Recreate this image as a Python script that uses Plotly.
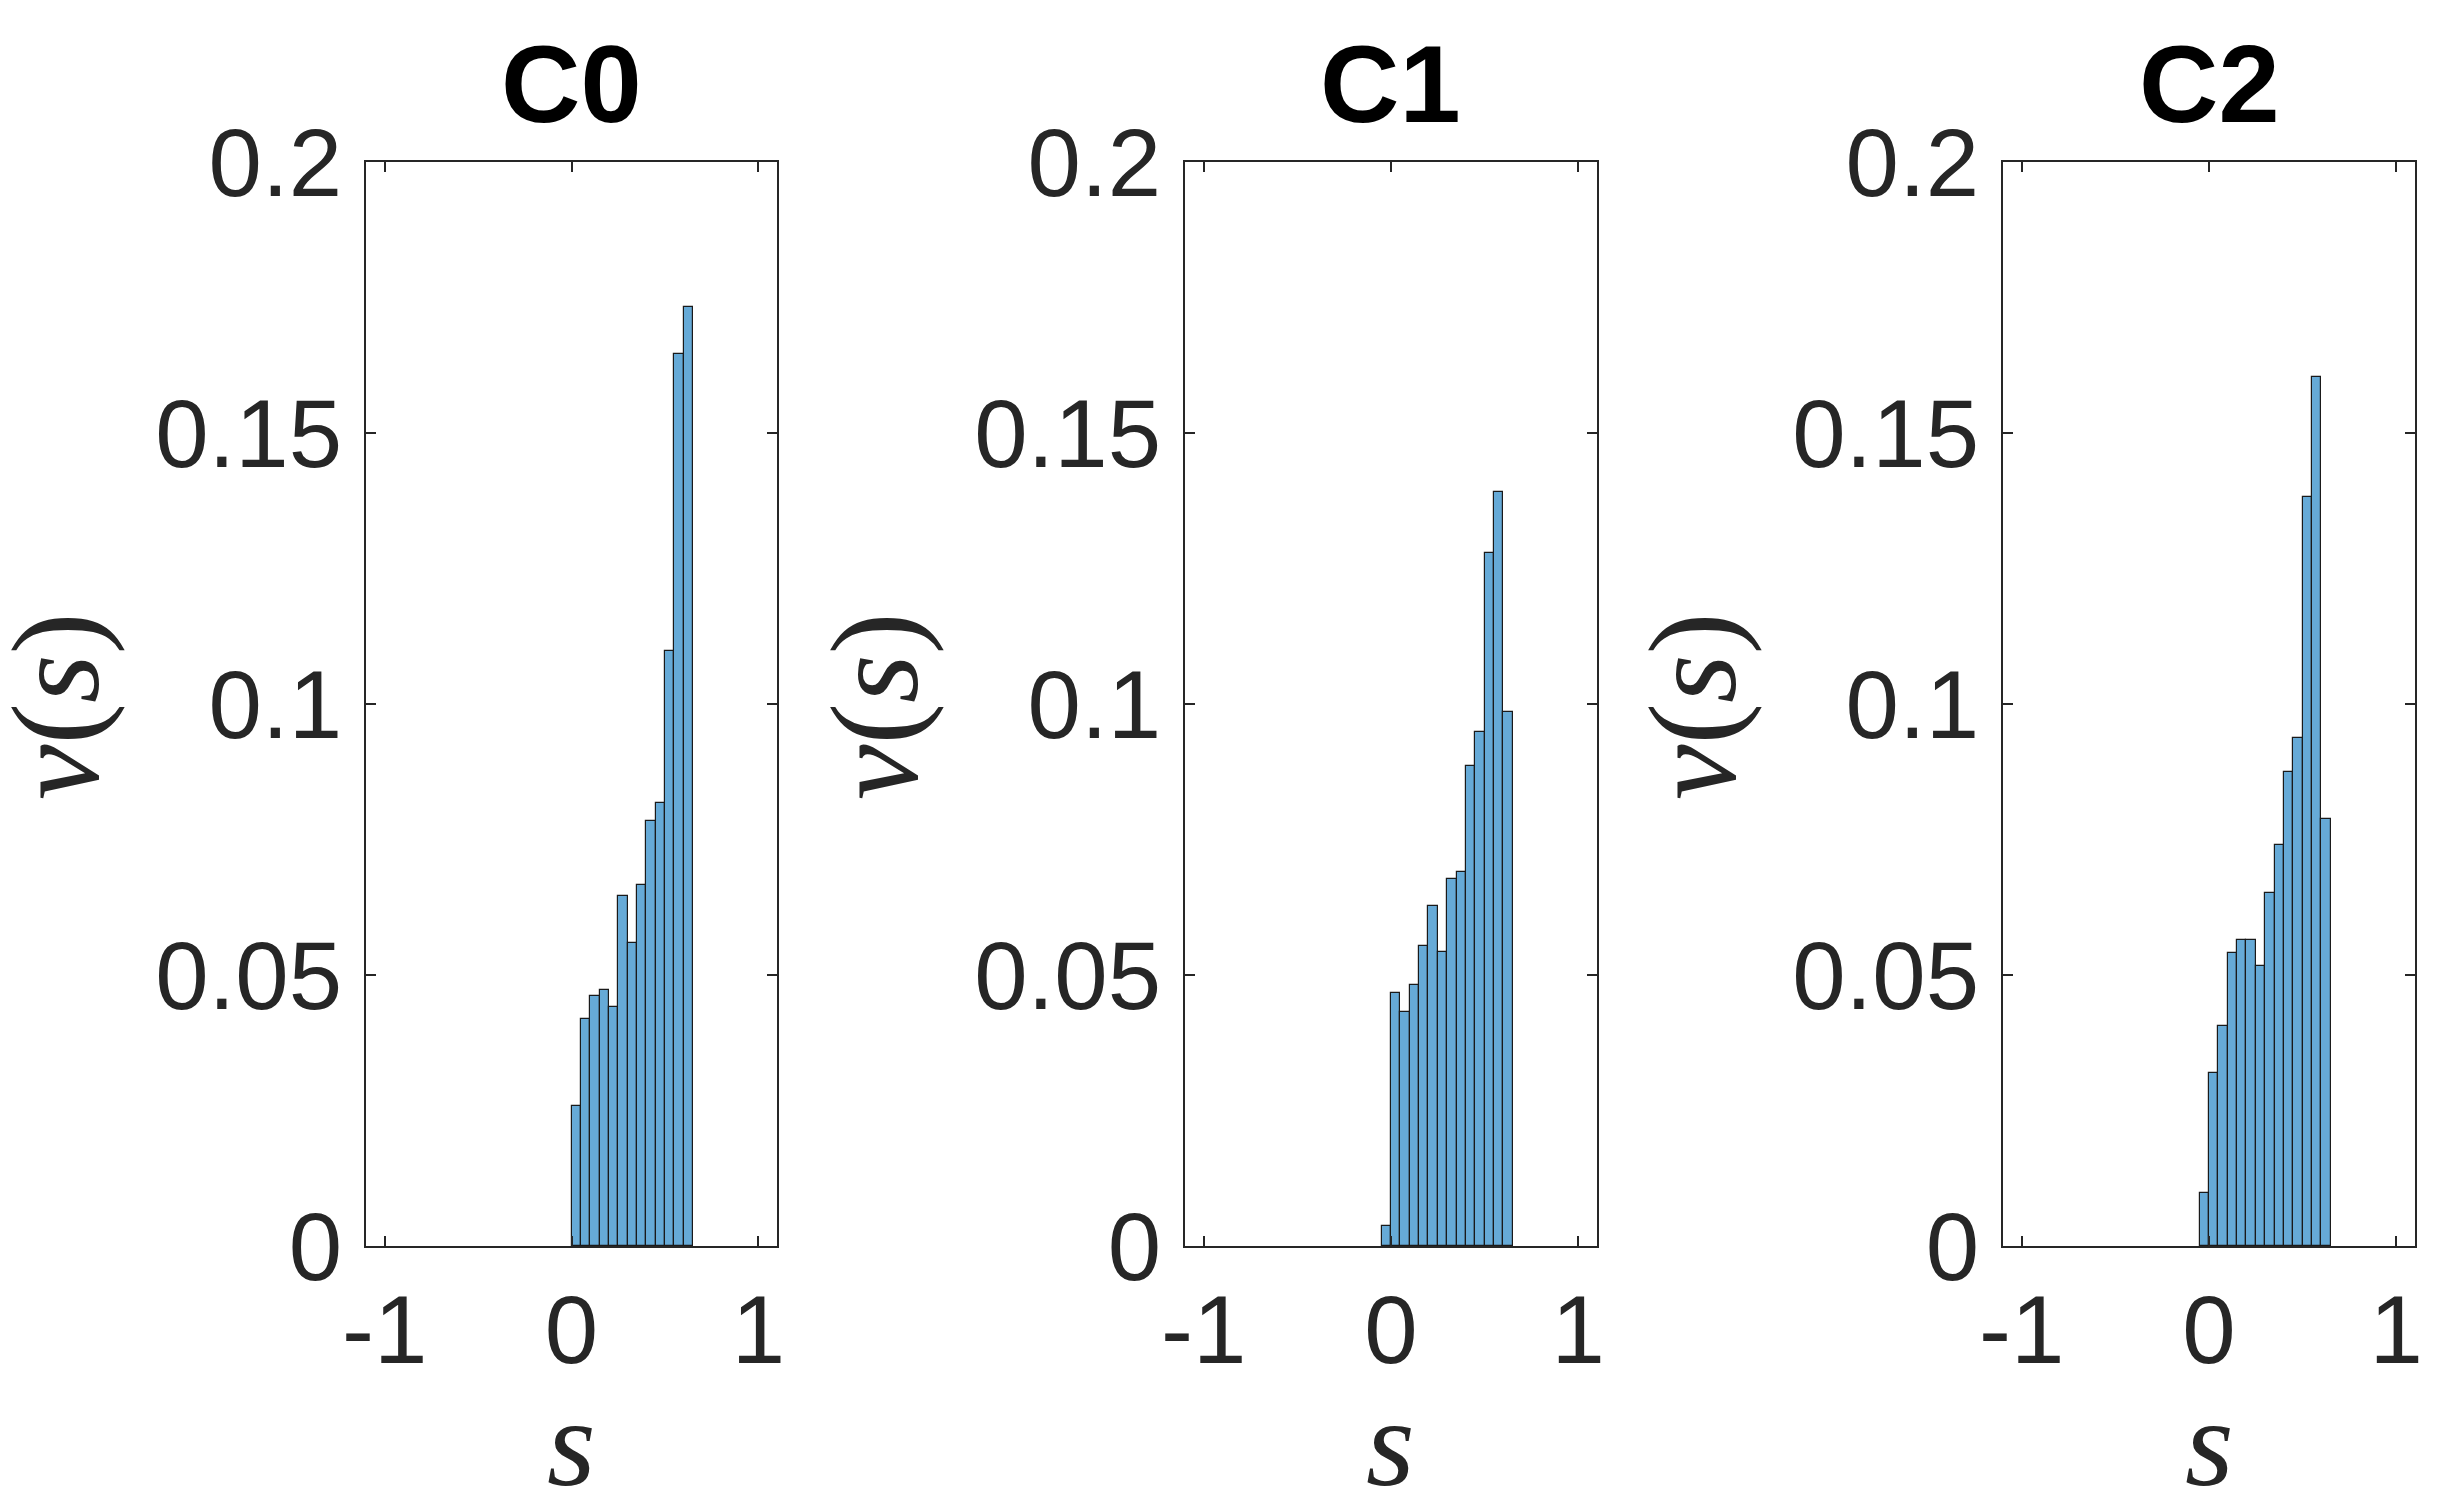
import plotly.graph_objects as go

# histogram data (probability per bin, bin width 0.05)
bin_width = 0.05

c0_centers = [0.025, 0.075, 0.125, 0.175, 0.225, 0.275, 0.325, 0.375, 0.425, 0.475, 0.525, 0.575, 0.625]
c0_values = [0.0258, 0.0419, 0.0462, 0.0473, 0.0441, 0.0645, 0.0559, 0.0666, 0.0785, 0.0818, 0.1098, 0.1646, 0.1732]

c1_centers = [-0.025, 0.025, 0.075, 0.125, 0.175, 0.225, 0.275, 0.325, 0.375, 0.425, 0.475, 0.525, 0.575, 0.625]
c1_values = [0.0037, 0.0467, 0.0432, 0.0482, 0.0554, 0.0628, 0.0543, 0.0677, 0.0690, 0.0886, 0.0949, 0.1279, 0.1391, 0.0985]

c2_centers = [-0.025, 0.025, 0.075, 0.125, 0.175, 0.225, 0.275, 0.325, 0.375, 0.425, 0.475, 0.525, 0.575, 0.625]
c2_values = [0.0098, 0.0320, 0.0406, 0.0541, 0.0565, 0.0565, 0.0517, 0.0652, 0.0740, 0.0874, 0.0937, 0.1382, 0.1603, 0.0788]

titles = ['C0', 'C1', 'C2']
x_ticks = [-1, 0, 1]
x_ticktext = ['-1', '0', '1']
y_ticks = [0, 0.05, 0.1, 0.15, 0.2]
y_ticktext = ['0', '0.05', '0.1', '0.15', '0.2']

# page body has an 8px margin, so the figure is drawn 8px in from the window corner
OFF = 8
W, H = 2446 - 2 * OFF, 1504 - 2 * OFF


def px(v):
    return (v - OFF) / W


def py(v):
    return 1 - (v - OFF) / H


axes_px = [(366, 777), (1185, 1597), (2003, 2415)]
x_domains = [(px(a), px(b)) for a, b in axes_px]
y_domain = (py(1246), py(162))

axcol = '#262626'
tickfont = dict(family='Liberation Sans, Arial, Helvetica', size=96, color=axcol)
mathfont = dict(family='Liberation Serif, DejaVu Serif, serif', size=125, color=axcol)

fig = go.Figure()
data = [(c0_centers, c0_values), (c1_centers, c1_values), (c2_centers, c2_values)]
annotations = []

for i, (xc, yv) in enumerate(data):
    n = '' if i == 0 else str(i + 1)
    fig.add_trace(go.Bar(
        x=xc, y=yv, width=bin_width,
        marker=dict(color='#66AAD7', line=dict(color='#1a1a1a', width=1.2)),
        xaxis='x' + n, yaxis='y' + n, showlegend=False,
    ))
    fig.layout['xaxis' + n] = dict(
        domain=x_domains[i], range=[-1.1, 1.1], anchor='y' + n,
        tickvals=x_ticks, ticktext=x_ticktext, tickfont=tickfont,
        ticks='inside', ticklen=10, tickwidth=1.5, tickcolor=axcol,
        showline=True, linecolor=axcol, linewidth=1.5, mirror='ticks',
        showgrid=False, zeroline=False, ticklabelstandoff=0, automargin=False,
    )
    fig.layout['yaxis' + n] = dict(
        domain=y_domain, range=[0, 0.2], anchor='x' + n,
        tickvals=y_ticks, ticktext=y_ticktext, tickfont=tickfont,
        ticks='inside', ticklen=10, tickwidth=1.5, tickcolor=axcol,
        showline=True, linecolor=axcol, linewidth=1.5, mirror='ticks',
        showgrid=False, zeroline=False, ticklabelstandoff=3, automargin=False,
    )
    left, right = axes_px[i]
    xmid = px(left + (right - left) * 0.5)
    # panel title
    annotations.append(dict(
        text='<b>' + titles[i] + '</b>', xref='paper', yref='paper',
        x=xmid, y=py(84), xanchor='center', yanchor='middle',
        showarrow=False, font=dict(family='Liberation Sans, Arial', size=110, color='black'),
    ))
    # x label
    annotations.append(dict(
        text='<i>s</i>', xref='paper', yref='paper',
        x=xmid, y=py(1443), xanchor='center', yanchor='middle',
        showarrow=False, font=mathfont,
    ))
    # y label
    annotations.append(dict(
        text='<i>ν</i>(<i>s</i>)', xref='paper', yref='paper',
        x=px(left - 310), y=py(707), xanchor='center', yanchor='middle',
        textangle=-90, showarrow=False, font=mathfont,
    ))

fig.update_layout(
    width=W, height=H,
    margin=dict(l=0, r=0, t=0, b=0, autoexpand=False),
    paper_bgcolor='white', plot_bgcolor='white',
    bargap=0, annotations=annotations,
)

fig.write_html("out.html")
